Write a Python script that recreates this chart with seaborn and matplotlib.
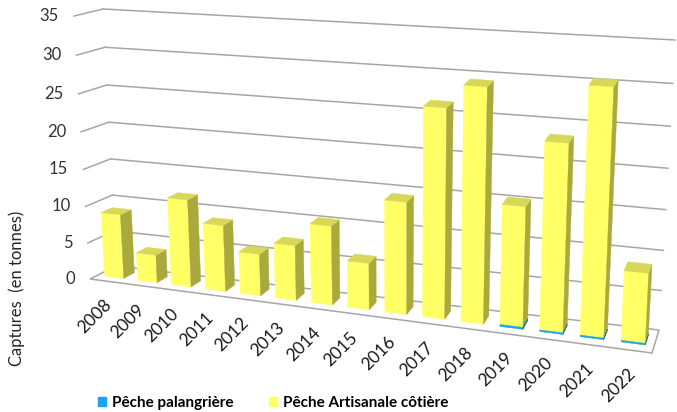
import numpy as np
import pandas as pd
import seaborn as sns
import matplotlib.pyplot as plt
import matplotlib.transforms as mtransforms
from matplotlib.patches import Polygon, Patch, Rectangle

years = [str(y) for y in range(2008, 2023)]
artisanale = [8.8, 3.8, 11.8, 8.9, 5.6, 7.3, 10.4, 6.1, 14.5, 26.6, 29.5, 15.2, 23.4, 30.4, 8.7]
palangriere = [0, 0, 0, 0, 0, 0, 0, 0, 0, 0, 0, 0.25, 0.2, 0.2, 0.2]
yticks = [0, 5, 10, 15, 20, 25, 30, 35]

W, H = 677, 412
yellow, yellow_side, yellow_top = "#FFFF66", "#A9A93E", "#D7D758"
blue, blue_side, blue_top = "#1AA3EE", "#0A6FA8", "#0E88CC"
gridc = "#A6A6A6"


def homography(src, dst):
    A, b = [], []
    for (x, y), (u, v) in zip(src, dst):
        A.append([x, y, 1, 0, 0, 0, -u * x, -u * y]); b.append(u)
        A.append([0, 0, 0, x, y, 1, -v * x, -v * y]); b.append(v)
    h = np.linalg.solve(np.array(A, float), np.array(b, float))
    return np.append(h, 1).reshape(3, 3)


corners = [(-0.5, 0), (-0.5, 35), (14.5, 35), (14.5, 0)]
# front edge of floor / side wall (z=0) and back wall (z=1), image pixels
HF = homography(corners, [(90, 279), (74, 16), (666, 57), (652, 353)])
HB = homography(corners, [(116, 266), (103, 9), (675, 40), (659, 330)])


def apply_h(M, xy):
    p = np.c_[xy, np.ones(len(xy))] @ M.T
    return p[:, :2] / p[:, 2:3]


def proj(xy, z):
    xy = np.atleast_2d(np.asarray(xy, float))
    z = np.broadcast_to(np.asarray(z, float), (len(xy),))[:, None]
    return (1 - z) * apply_h(HF, xy) + z * apply_h(HB, xy)


class Proj(mtransforms.Transform):
    input_dims = 2
    output_dims = 2
    has_inverse = False

    def __init__(self, z):
        super().__init__()
        self.z = z

    def transform_non_affine(self, values):
        return proj(values, self.z)


fig = plt.figure(figsize=(W / 100, H / 100), dpi=100)
ax = fig.add_axes([0, 0, 1, 1])
ax.set_axis_off()
pix = mtransforms.Affine2D().scale(1 / W, -1 / H).translate(0, 1) + fig.transFigure

plt.rcParams['font.family'] = ['Lato', 'DejaVu Sans']

# back wall gridlines and left side wall
for v in yticks[1:]:
    ax.plot([-0.5, 14.5], [v, v], color=gridc, lw=1.1, transform=Proj(1.0) + pix, zorder=1, clip_on=False)
    seg = proj([(-0.5, v), (-0.5, v)], [0, 1])
    ax.plot(seg[:, 0], seg[:, 1], color=gridc, lw=1.1, transform=pix, zorder=1, clip_on=False)
floor = proj([(-0.5, 0), (-0.5, 0), (14.5, 0), (14.5, 0)], [0, 1, 1, 0])
ax.add_patch(Polygon(floor, closed=True, facecolor="white", edgecolor=gridc, lw=1.1,
                     transform=pix, zorder=1.5, clip_on=False))

totals = list(np.add(artisanale, palangriere))
df = pd.DataFrame({"annee": years, "total": totals, "palangriere": palangriere})
sns.barplot(data=df, x="annee", y="total", color=yellow, saturation=1, width=0.58, ax=ax)
sns.barplot(data=df, x="annee", y="palangriere", color=blue, saturation=1, width=0.58, ax=ax)

zf, zb = 0.3, 0.72
n = len(years)
bars = [p for p in ax.patches if isinstance(p, Rectangle)]
for k, bar in enumerate(bars):
    is_blue = k >= n
    x0, w, h = bar.get_x(), bar.get_width(), bar.get_height()
    if h <= 0:
        bar.set_visible(False)
        continue
    bar.set_transform(Proj(zf) + pix)
    bar.set_clip_on(False)
    bar.set_zorder(3 + (0.5 if is_blue else 0))
    bar.set_edgecolor(bar.get_facecolor())
    bar.set_linewidth(0.3)
    x1 = x0 + w
    side = proj([(x1, 0), (x1, h), (x1, h), (x1, 0)], [zf, zf, zb, zb])
    ax.add_patch(Polygon(side, closed=True, facecolor=blue_side if is_blue else yellow_side,
                         edgecolor=blue_side if is_blue else yellow_side, lw=0.3,
                         transform=pix, zorder=bar.get_zorder(), clip_on=False))
    if not is_blue:
        top = proj([(x0, h), (x1, h), (x1, h), (x0, h)], [zf, zf, zb, zb])
        ax.add_patch(Polygon(top, closed=True, facecolor=yellow_top, edgecolor=yellow_top, lw=0.3,
                             transform=pix, zorder=3, clip_on=False))

# tick labels
for v in yticks:
    px, py = proj([(-0.5, v)], 0)[0]
    fig.text((px - 15) / W, 1 - py / H, str(v), ha="right", va="center", fontsize=12, color="#333333")
for i, yr in enumerate(years):
    px, py = proj([(i, 0)], 0)[0]
    fig.text((px + 2) / W, 1 - (py + 21) / H, yr, ha="right", va="center", rotation=45,
             rotation_mode="anchor", fontsize=12.5, color="#1a1a1a")

fig.text(17 / W, 1 - 288 / H, "Captures  (en tonnes)", rotation=90, ha="center", va="center",
         fontsize=12, color="#262626")

handles = [Patch(color=blue, label="Pêche palangrière"), Patch(color=yellow, label="Pêche Artisanale côtière")]
fig.legend(handles=handles, loc="center left", bbox_to_anchor=(84 / W, 1 - 403 / H), ncol=2,
           frameon=False, handlelength=0.55, handleheight=0.55, handletextpad=0.4, columnspacing=2.3,
           prop={"weight": "bold", "size": 11})

fig.savefig("out.png", dpi=100)
